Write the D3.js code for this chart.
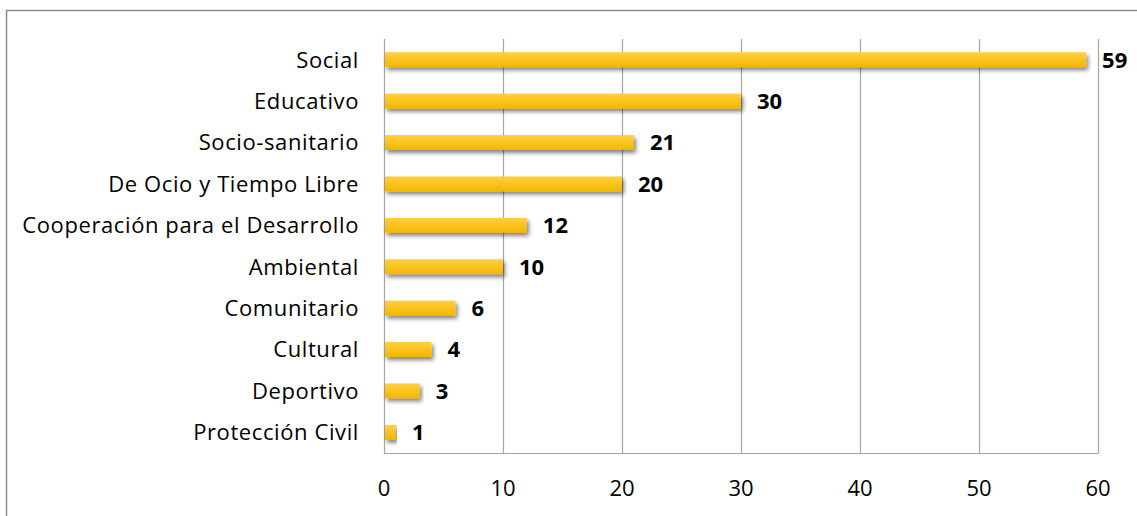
<!DOCTYPE html>
<html>
<head>
<meta charset="utf-8">
<script src="https://cdn.jsdelivr.net/npm/d3@7"></script>
<style>
  html, body { margin: 0; padding: 0; background: #fff; }
  svg { display: block; font-family: "Open Sans", Lato, sans-serif; }
</style>
</head>
<body>
<svg id="chart" width="1137" height="516"></svg>
<script>
// Volunteering areas and number of entities in each
const categories = [
  "Social", "Educativo", "Socio-sanitario", "De Ocio y Tiempo Libre",
  "Cooperación para el Desarrollo", "Ambiental", "Comunitario",
  "Cultural", "Deportivo", "Protección Civil"
];
const values = [59, 30, 21, 20, 12, 10, 6, 4, 3, 1];
const xTicks = [0, 10, 20, 30, 40, 50, 60];

const svg = d3.select("#chart");
const W = 1137, H = 516;
const plot = { left: 384, right: 1098, top: 39, bottom: 453 };
const fontSize = 22;

// Outer chart frame (runs off the right and bottom edges)
svg.append("path")
  .attr("d", `M6.5,${H + 2} L6.5,10.5 L${W + 2},10.5`)
  .attr("fill", "none").attr("stroke", "#8c8c8c").attr("stroke-width", 1.5);

const defs = svg.append("defs");
const grad = defs.append("linearGradient").attr("id", "barFill")
  .attr("x1", 0).attr("y1", 0).attr("x2", 0).attr("y2", 1);
grad.append("stop").attr("offset", "0%").attr("stop-color", "#ffd03f");
grad.append("stop").attr("offset", "100%").attr("stop-color", "#f3b600");

const shadow = defs.append("filter").attr("id", "barShadow")
  .attr("x", "-5%").attr("y", "-50%").attr("width", "115%").attr("height", "220%");
shadow.append("feDropShadow")
  .attr("dx", 2).attr("dy", 3).attr("stdDeviation", 2.2)
  .attr("flood-color", "#000").attr("flood-opacity", 0.5);

const x = d3.scaleLinear().domain([0, 60]).range([plot.left, plot.right]);
const y = d3.scaleBand().domain(categories).range([plot.top, plot.bottom])
  .paddingInner(0.64).paddingOuter(0.32);

// Vertical gridlines
svg.append("g").selectAll("line").data(xTicks.slice(1)).join("line")
  .attr("x1", d => Math.round(x(d)) + 0.5).attr("x2", d => Math.round(x(d)) + 0.5)
  .attr("y1", plot.top).attr("y2", plot.bottom)
  .attr("stroke", "#a6a6a6").attr("stroke-width", 1.2);

// Left and bottom axis lines
svg.append("path")
  .attr("d", `M${plot.left + 0.5},${plot.top} L${plot.left + 0.5},${plot.bottom + 0.5} L${plot.right + 0.5},${plot.bottom + 0.5}`)
  .attr("fill", "none").attr("stroke", "#a6a6a6").attr("stroke-width", 1.2);

// Bars
svg.append("g").selectAll("rect").data(values).join("rect")
  .attr("x", x(0) + 1)
  .attr("y", (d, i) => y(categories[i]))
  .attr("width", d => x(d) - x(0) - 1)
  .attr("height", y.bandwidth())
  .attr("fill", "url(#barFill)")
  .attr("filter", "url(#barShadow)");

// Value labels
svg.append("g").selectAll("text").data(values).join("text")
  .attr("x", d => x(d) + 16)
  .attr("y", (d, i) => y(categories[i]) + y.bandwidth() / 2)
  .attr("dy", "0.36em")
  .attr("font-size", fontSize).attr("font-weight", "bold").attr("fill", "#000")
  .text(d => d);

// Category labels
svg.append("g").selectAll("text").data(categories).join("text")
  .attr("x", plot.left - 25)
  .attr("y", d => y(d) + y.bandwidth() / 2)
  .attr("dy", "0.36em")
  .attr("text-anchor", "end")
  .attr("font-size", fontSize).attr("letter-spacing", 0.6).attr("fill", "#000")
  .text(d => d);

// X tick labels
svg.append("g").selectAll("text").data(xTicks).join("text")
  .attr("x", d => x(d))
  .attr("y", 488)
  .attr("dy", "0.36em")
  .attr("text-anchor", "middle")
  .attr("font-size", fontSize).attr("fill", "#000")
  .text(d => d);
</script>
</body>
</html>
